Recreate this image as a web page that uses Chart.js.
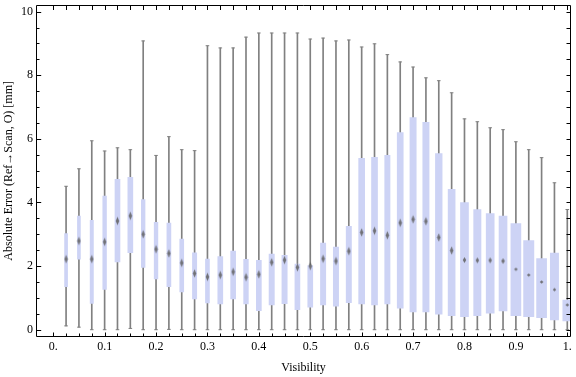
<!DOCTYPE html>
<html>
<head>
<meta charset="utf-8">
<script src="https://cdn.jsdelivr.net/npm/chart.js@4/dist/chart.umd.min.js"></script>
<style>
  html, body { margin: 0; padding: 0; background: #ffffff; }
  #wrap { width: 576px; height: 377px; }
</style>
</head>
<body>
<div id="wrap"><canvas id="c" width="576" height="377"></canvas></div>
<script>
// ---- data ----
const visibility = [0.025,0.05,0.075,0.1,0.125,0.15,0.175,0.2,0.225,0.25,0.275,0.3,0.325,0.35,0.375,0.4,0.425,0.45,0.475,0.5,0.525,0.55,0.575,0.6,0.625,0.65,0.675,0.7,0.725,0.75,0.775,0.8,0.825,0.85,0.875,0.9,0.925,0.95,0.975,1.0];
const whiskerLow  = [0.12,0.08,0,0,0,0.04,0,0,0.01,0,0,0,0,0,0,0,0,0,0,0,0,0,0,0,0,0,0,0,0,0,0,0,0,0,0,0,0,0,0,0];
const q1          = [1.35,2.22,0.83,1.27,2.13,2.42,1.96,1.60,1.35,1.19,0.97,0.84,0.81,0.97,0.81,0.60,0.78,0.82,0.63,0.71,0.78,0.74,0.85,0.81,0.78,0.81,0.68,0.56,0.56,0.49,0.44,0.41,0.44,0.52,0.59,0.44,0.41,0.38,0.31,0.28];
const median      = [2.22,2.79,2.22,2.76,3.42,3.58,3.00,2.53,2.40,2.10,1.77,1.66,1.72,1.82,1.65,1.74,2.12,2.19,1.96,2.00,2.23,2.16,2.47,3.06,3.11,2.97,3.36,3.47,3.41,2.90,2.49,2.19,2.18,2.18,2.16,1.90,1.72,1.50,1.26,0.78];
const q3          = [3.02,3.57,3.44,4.20,4.73,4.79,4.09,3.38,3.35,2.85,2.42,2.22,2.30,2.47,2.21,2.18,2.38,2.34,2.06,2.02,2.72,2.60,3.25,5.39,5.42,5.48,6.20,6.67,6.52,5.54,4.41,4.00,3.78,3.65,3.57,3.34,2.80,2.24,2.41,0.93];
const whiskerHigh = [4.51,5.06,5.94,5.62,5.72,5.66,9.08,5.48,6.07,5.66,5.63,8.93,8.86,8.86,9.20,9.33,9.33,9.33,9.33,9.14,9.17,9.08,9.11,8.89,8.99,8.65,8.42,8.26,7.92,7.83,7.45,6.63,6.54,6.35,6.29,5.91,5.66,5.41,4.62,3.78];
// relative sample weight of each group (drives box width)
const relWeight   = [0.30,0.30,0.33,0.37,0.50,0.50,0.37,0.37,0.40,0.40,0.43,0.40,0.50,0.50,0.47,0.50,0.53,0.53,0.50,0.50,0.53,0.53,0.53,0.60,0.60,0.53,0.60,0.63,0.63,0.67,0.70,0.80,0.73,0.80,0.80,1.00,1.03,1.00,0.83,0.90];

const xTickValues = [0,0.1,0.2,0.3,0.4,0.5,0.6,0.7,0.8,0.9,1.0];
const xTickLabels = ['0.','0.1','0.2','0.3','0.4','0.5','0.6','0.7','0.8','0.9','1.'];
const yTickValues = [0,2,4,6,8,10];
const yTickLabels = ['0','2','4','6','8','10'];

// ---- styles ----
const BOX_COLOR = '#cdd3f5';
const WHISKER_COLOR = '#808080';
const BOX_PX_PER_WEIGHT = 10;
const FONT = { family: '"Liberation Serif", "Times New Roman", serif', size: 12 };

function makeMedianMarker(h) {
  const c = document.createElement('canvas');
  c.width = 5; c.height = Math.ceil(h) + 2;
  const g = c.getContext('2d');
  const cx = c.width / 2, cy = c.height / 2;
  g.fillStyle = 'rgba(95,95,95,0.85)';
  g.beginPath();
  g.moveTo(cx, cy - h / 2);
  g.lineTo(cx + 1.7, cy);
  g.lineTo(cx, cy + h / 2);
  g.lineTo(cx - 1.7, cy);
  g.closePath();
  g.fill();
  return c;
}
const markerTall = makeMedianMarker(8.5);
const markerMid = makeMedianMarker(6);
const markerSmall = makeMedianMarker(3.6);

const boxData = visibility.map((v, i) => ({ x: v, y: [q1[i], q3[i]] }));
const whiskerData = visibility.map((v, i) => ({ x: v, y: [whiskerLow[i], whiskerHigh[i]] }));
const medianData = visibility.map((v, i) => ({ x: v, y: median[i] }));
const capData = visibility.map((v, i) => ({ x: v, y: whiskerLow[i] }))
  .concat(visibility.map((v, i) => ({ x: v, y: whiskerHigh[i] })));

const boxWidthPlugin = {
  id: 'boxWidth',
  afterDatasetsUpdate(chart) {
    const meta = chart.getDatasetMeta(1);
    meta.data.forEach((el, i) => { el.width = relWeight[i] * BOX_PX_PER_WEIGHT; });
  }
};

const framePlugin = {
  id: 'frame',
  afterDraw(chart) {
    const { ctx, chartArea: a, scales: { x, y } } = chart;
    ctx.save();
    ctx.strokeStyle = '#000';
    ctx.lineWidth = 1;
    const L = Math.round(a.left) + 0.5, R = Math.round(a.right) - 0.5;
    const T = Math.round(a.top) + 0.5, B = Math.round(a.bottom) - 0.5;
    ctx.beginPath();
    ctx.rect(L, T, R - L, B - T);
    // x ticks every 0.025 (bottom & top), major every 0.1
    for (let k = 0; k <= 40; k++) {
      const v = k * 0.025;
      const px = Math.round(x.getPixelForValue(v)) + 0.5;
      const major = k % 4 === 0;
      ctx.moveTo(px, B); ctx.lineTo(px, B - (major ? 4 : 3));
      ctx.moveTo(px, T); ctx.lineTo(px, T + 4.5);
    }
    // y ticks every 0.5, major every 2
    for (let k = 0; k <= 20; k++) {
      const v = k * 0.5;
      const py = Math.round(y.getPixelForValue(v)) + 0.5;
      const major = k % 4 === 0;
      ctx.moveTo(L, py); ctx.lineTo(L + (major ? 4.7 : 3), py);
      ctx.moveTo(R, py); ctx.lineTo(R - 4, py);
    }
    ctx.stroke();
    ctx.restore();
  }
};

function zeroPad(s) { s.paddingLeft = 0; s.paddingRight = 0; s.paddingTop = 0; s.paddingBottom = 0; }

new Chart(document.getElementById('c'), {
  type: 'bar',
  data: {
    datasets: [
      {
        type: 'scatter',
        data: medianData,
        order: 0,
        pointStyle: (c) => {
          const w = relWeight[c.dataIndex] || 0.5;
          return w > 0.81 ? markerSmall : (w > 0.72 ? markerMid : markerTall);
        },
        pointRadius: 3,
        borderWidth: 0
      },
      {
        type: 'bar',
        data: boxData,
        order: 2,
        grouped: false,
        barThickness: 6,
        backgroundColor: BOX_COLOR,
        borderWidth: 0,
        borderSkipped: false
      },
      {
        type: 'bar',
        data: whiskerData,
        order: 3,
        grouped: false,
        barThickness: 1,
        backgroundColor: WHISKER_COLOR,
        borderWidth: 0,
        borderSkipped: false
      },
      {
        type: 'scatter',
        data: capData,
        order: 1,
        pointStyle: 'line',
        pointRadius: 1.8,
        borderColor: WHISKER_COLOR,
        backgroundColor: WHISKER_COLOR,
        borderWidth: 1
      }
    ]
  },
  options: {
    responsive: false,
    devicePixelRatio: 1,
    animation: false,
    events: [],
    layout: { padding: { left: 0, right: 2.5, top: 4.3, bottom: 0 } },
    plugins: { legend: { display: false }, tooltip: { enabled: false } },
    scales: {
      x: {
        type: 'linear',
        min: -0.0335,
        max: 1.0072,
        offset: false,
        grid: { display: false, drawTicks: false },
        border: { display: false },
        afterBuildTicks: (s) => { s.ticks = xTickValues.map(v => ({ value: v })); },
        afterFit: (s) => { s.height = 40.3; zeroPad(s); },
        ticks: {
          autoSkip: false, maxRotation: 0, padding: 3,
          font: FONT, color: '#000',
          callback: (val, i) => xTickLabels[i]
        },
        title: { display: true, text: 'Visibility', font: FONT, color: '#000', padding: { top: 0, bottom: 2 } }
      },
      y: {
        type: 'linear',
        min: -0.22,
        max: 10.21,
        grid: { display: false, drawTicks: false },
        border: { display: false },
        afterBuildTicks: (s) => { s.ticks = yTickValues.map(v => ({ value: v })); },
        afterFit: (s) => { s.width = 36; zeroPad(s); },
        ticks: {
          autoSkip: false, padding: 3,
          font: FONT, color: '#000',
          callback: (val, i) => yTickLabels[i]
        },
        title: { display: true, text: 'Absolute Error (Ref→Scan, O) [mm]', font: FONT, color: '#000', padding: { top: 2, bottom: 0 } }
      }
    }
  },
  plugins: [boxWidthPlugin, framePlugin]
});
</script>
</body>
</html>
